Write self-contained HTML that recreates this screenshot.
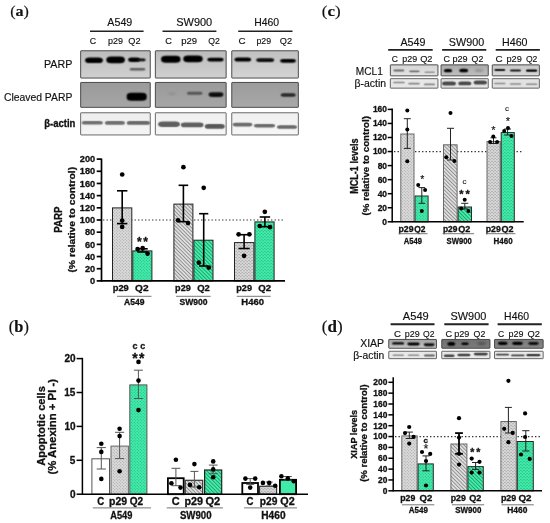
<!DOCTYPE html>
<html><head><meta charset="utf-8"><title>figure</title>
<style>
html,body{margin:0;padding:0;background:#fff;}
body{width:550px;height:523px;overflow:hidden;font-family:"Liberation Sans",sans-serif;}
svg{display:block;will-change:transform;}
svg text{stroke:#111;stroke-width:0.15px;stroke-linejoin:round;}
svg text[font-weight="bold"]{stroke-width:0.3px;}
</style></head><body>
<svg width="550" height="523" viewBox="0 0 550 523">
<rect width="550" height="523" fill="#fff"/>
<defs>
<filter id="bl1" x="-30%" y="-200%" width="160%" height="500%"><feConvolveMatrix order="3" kernelMatrix="1 2 1 2 4 2 1 2 1" divisor="16" edgeMode="none"/></filter>
<filter id="bl2" x="-30%" y="-200%" width="160%" height="500%"><feConvolveMatrix order="3" kernelMatrix="1 4 1 4 16 4 1 4 1" divisor="36" edgeMode="none"/></filter>
<filter id="bl3" x="-30%" y="-200%" width="160%" height="500%"><feGaussianBlur stdDeviation="1.2"/></filter>
<pattern id="gdot" width="3" height="3" patternUnits="userSpaceOnUse"><rect width="3" height="3" fill="#dadada"/><circle cx="0.75" cy="0.75" r="0.5" fill="#9a9a9a"/><circle cx="2.25" cy="2.25" r="0.5" fill="#9a9a9a"/></pattern>
<pattern id="vdot" width="3" height="3" patternUnits="userSpaceOnUse"><rect width="3" height="3" fill="#40ecaa"/><circle cx="0.75" cy="0.75" r="0.5" fill="#28a878"/><circle cx="2.25" cy="2.25" r="0.5" fill="#28a878"/></pattern>
<pattern id="ghat" width="2.6" height="2.6" patternUnits="userSpaceOnUse" patternTransform="rotate(-45)"><rect width="2.6" height="2.6" fill="#e0e0e0"/><rect width="0.9" height="2.6" fill="#8c8c8c"/></pattern>
<pattern id="vhat" width="2.6" height="2.6" patternUnits="userSpaceOnUse" patternTransform="rotate(-45)"><rect width="2.6" height="2.6" fill="#44eeab"/><rect width="0.9" height="2.6" fill="#1f9c6c"/></pattern>
<pattern id="gmsh" width="3.2" height="3.0" patternUnits="userSpaceOnUse"><rect width="3.2" height="3.0" fill="#dadada"/><rect x="0.2" y="0.4" width="1.3" height="0.8" fill="#8e8e8e"/><rect x="1.8" y="1.9" width="1.3" height="0.8" fill="#8e8e8e"/></pattern>
<pattern id="vmsh" width="3.2" height="3.0" patternUnits="userSpaceOnUse"><rect width="3.2" height="3.0" fill="#40eeaa"/><rect x="0.2" y="0.4" width="1.3" height="0.8" fill="#26a878"/><rect x="1.8" y="1.9" width="1.3" height="0.8" fill="#26a878"/></pattern>
</defs>
<text x="10.18" y="15.90" font-family="Liberation Serif" font-size="15.2" fill="#111" textLength="18.72" lengthAdjust="spacingAndGlyphs">(<tspan font-weight="bold">a</tspan>)</text>
<text x="8.86" y="332.00" font-family="Liberation Serif" font-size="16.5" fill="#111" textLength="20.03" lengthAdjust="spacingAndGlyphs">(<tspan font-weight="bold">b</tspan>)</text>
<text x="321.83" y="15.90" font-family="Liberation Serif" font-size="15.2" fill="#111" textLength="18.89" lengthAdjust="spacingAndGlyphs">(<tspan font-weight="bold">c</tspan>)</text>
<text x="321.83" y="332.00" font-family="Liberation Serif" font-size="16.5" fill="#111" textLength="20.78" lengthAdjust="spacingAndGlyphs">(<tspan font-weight="bold">d</tspan>)</text>
<text x="107.37" y="26.40" font-family="Liberation Sans" font-size="10.4" fill="#111" textLength="24.91" lengthAdjust="spacingAndGlyphs">A549</text>
<line x1="90.00" y1="31.20" x2="143.60" y2="31.20" stroke="#222" stroke-width="1.6"/>
<text x="89.76" y="43.60" font-family="Liberation Sans" font-size="8.8" fill="#111" textLength="6.39" lengthAdjust="spacingAndGlyphs">C</text>
<text x="108.12" y="43.60" font-family="Liberation Sans" font-size="8.8" fill="#111" textLength="15.00" lengthAdjust="spacingAndGlyphs">p29</text>
<text x="128.27" y="43.60" font-family="Liberation Sans" font-size="8.8" fill="#111" textLength="12.21" lengthAdjust="spacingAndGlyphs">Q2</text>
<text x="176.31" y="26.40" font-family="Liberation Sans" font-size="10.4" fill="#111" textLength="35.92" lengthAdjust="spacingAndGlyphs">SW900</text>
<line x1="162.50" y1="31.20" x2="216.40" y2="31.20" stroke="#222" stroke-width="1.6"/>
<text x="165.34" y="43.60" font-family="Liberation Sans" font-size="8.8" fill="#111" textLength="6.62" lengthAdjust="spacingAndGlyphs">C</text>
<text x="181.18" y="43.60" font-family="Liberation Sans" font-size="8.8" fill="#111" textLength="15.85" lengthAdjust="spacingAndGlyphs">p29</text>
<text x="208.19" y="43.60" font-family="Liberation Sans" font-size="8.8" fill="#111" textLength="11.56" lengthAdjust="spacingAndGlyphs">Q2</text>
<text x="254.14" y="26.40" font-family="Liberation Sans" font-size="10.4" fill="#111" textLength="24.85" lengthAdjust="spacingAndGlyphs">H460</text>
<line x1="238.20" y1="31.20" x2="292.50" y2="31.20" stroke="#222" stroke-width="1.6"/>
<text x="238.51" y="43.60" font-family="Liberation Sans" font-size="8.8" fill="#111" textLength="7.08" lengthAdjust="spacingAndGlyphs">C</text>
<text x="256.43" y="43.60" font-family="Liberation Sans" font-size="8.8" fill="#111" textLength="14.68" lengthAdjust="spacingAndGlyphs">p29</text>
<text x="279.77" y="43.60" font-family="Liberation Sans" font-size="8.8" fill="#111" textLength="12.21" lengthAdjust="spacingAndGlyphs">Q2</text>
<text x="44.02" y="67.70" font-family="Liberation Sans" font-size="10" fill="#111" textLength="28.33" lengthAdjust="spacingAndGlyphs">PARP</text>
<text x="3.98" y="101.00" font-family="Liberation Sans" font-size="10" fill="#111" textLength="68.35" lengthAdjust="spacingAndGlyphs">Cleaved PARP</text>
<text x="44.24" y="126.80" font-family="Liberation Sans" font-size="10" font-weight="bold" fill="#111" textLength="31.13" lengthAdjust="spacingAndGlyphs">β-actin</text>
<linearGradient id="gr1" x1="0" y1="0" x2="0" y2="1"><stop offset="0" stop-color="#bcbcbc"/><stop offset="1" stop-color="#d0d0d0"/></linearGradient>
<rect x="80.65" y="50.75" width="69.60" height="27.30" fill="url(#gr1)" stroke="#3c3c3c" stroke-width="0.9" rx="0.4"/>
<rect x="85.10" y="57.40" width="17.80" height="5.70" rx="4.56" ry="2.85" fill="#000" opacity="1.0" filter="url(#bl1)"/>
<rect x="106.35" y="56.55" width="18.50" height="6.80" rx="4.80" ry="3.00" fill="#000" opacity="1.0" filter="url(#bl1)"/>
<rect x="128.15" y="57.50" width="11.70" height="4.40" rx="3.52" ry="2.20" fill="#000" opacity="1.0" filter="url(#bl1)"/>
<rect x="136.40" y="58.50" width="9.20" height="2.80" rx="2.24" ry="1.40" fill="#0a0a0a" opacity="1.0" filter="url(#bl1)"/>
<rect x="129.75" y="68.10" width="15.50" height="2.40" rx="1.92" ry="1.20" fill="#5a5a5a" opacity="1.0" filter="url(#bl1)"/>
<linearGradient id="gr2" x1="0" y1="0" x2="0" y2="1"><stop offset="0" stop-color="#bcbcbc"/><stop offset="1" stop-color="#d0d0d0"/></linearGradient>
<rect x="155.35" y="50.75" width="70.80" height="27.30" fill="url(#gr2)" stroke="#3c3c3c" stroke-width="0.9" rx="0.4"/>
<rect x="161.10" y="55.80" width="19.40" height="7.00" rx="4.80" ry="3.00" fill="#000" opacity="1.0" filter="url(#bl1)"/>
<rect x="183.30" y="55.45" width="19.40" height="6.70" rx="4.80" ry="3.00" fill="#000" opacity="1.0" filter="url(#bl1)"/>
<rect x="207.35" y="57.75" width="16.30" height="3.70" rx="2.96" ry="1.85" fill="#000" opacity="1.0" filter="url(#bl1)"/>
<linearGradient id="gr3" x1="0" y1="0" x2="0" y2="1"><stop offset="0" stop-color="#c0c0c0"/><stop offset="1" stop-color="#d4d4d4"/></linearGradient>
<rect x="231.75" y="50.75" width="66.60" height="27.30" fill="url(#gr3)" stroke="#3c3c3c" stroke-width="0.9" rx="0.4"/>
<rect x="234.50" y="57.60" width="16.60" height="4.00" rx="3.20" ry="2.00" fill="#000" opacity="1.0" filter="url(#bl1)"/>
<rect x="256.20" y="58.30" width="18.00" height="3.60" rx="2.88" ry="1.80" fill="#080808" opacity="1.0" filter="url(#bl1)"/>
<rect x="280.10" y="58.90" width="15.80" height="3.80" rx="3.04" ry="1.90" fill="#000" opacity="1.0" filter="url(#bl1)"/>
<linearGradient id="gr4" x1="0" y1="0" x2="0" y2="1"><stop offset="0" stop-color="#9a9a9a"/><stop offset="1" stop-color="#a6a6a6"/></linearGradient>
<rect x="80.65" y="82.45" width="69.60" height="24.90" fill="url(#gr4)" stroke="#3c3c3c" stroke-width="0.9" rx="0.4"/>
<rect x="126.70" y="92.70" width="20.00" height="8.00" rx="4.80" ry="3.00" fill="#000" opacity="1.0" filter="url(#bl1)"/>
<linearGradient id="gr5" x1="0" y1="0" x2="0" y2="1"><stop offset="0" stop-color="#9a9a9a"/><stop offset="1" stop-color="#a6a6a6"/></linearGradient>
<rect x="155.35" y="82.45" width="70.80" height="24.90" fill="url(#gr5)" stroke="#3c3c3c" stroke-width="0.9" rx="0.4"/>
<rect x="168.40" y="92.70" width="7.20" height="1.80" rx="1.44" ry="0.90" fill="#888" opacity="1.0" filter="url(#bl3)"/>
<rect x="186.85" y="91.80" width="15.70" height="3.00" rx="2.40" ry="1.50" fill="#555" opacity="1.0" filter="url(#bl1)"/>
<rect x="208.65" y="92.30" width="14.70" height="4.60" rx="3.68" ry="2.30" fill="#0a0a0a" opacity="1.0" filter="url(#bl1)"/>
<linearGradient id="gr6" x1="0" y1="0" x2="0" y2="1"><stop offset="0" stop-color="#9c9c9c"/><stop offset="1" stop-color="#a8a8a8"/></linearGradient>
<rect x="231.75" y="82.45" width="66.60" height="24.90" fill="url(#gr6)" stroke="#3c3c3c" stroke-width="0.9" rx="0.4"/>
<rect x="280.60" y="93.30" width="15.20" height="3.40" rx="2.72" ry="1.70" fill="#262626" opacity="1.0" filter="url(#bl1)"/>
<linearGradient id="gr7" x1="0" y1="0" x2="0" y2="1"><stop offset="0" stop-color="#eeeeee"/><stop offset="1" stop-color="#f5f5f5"/></linearGradient>
<rect x="80.65" y="112.75" width="69.60" height="22.20" fill="url(#gr7)" stroke="#5a5a5a" stroke-width="0.9" rx="0.4"/>
<rect x="81.70" y="121.00" width="21.20" height="3.60" rx="2.88" ry="1.80" fill="#6e6e6e" opacity="1.0" filter="url(#bl2)"/>
<rect x="104.90" y="121.10" width="20.00" height="3.60" rx="2.88" ry="1.80" fill="#6e6e6e" opacity="1.0" filter="url(#bl2)"/>
<rect x="126.80" y="121.05" width="23.20" height="3.70" rx="2.96" ry="1.85" fill="#686868" opacity="1.0" filter="url(#bl2)"/>
<linearGradient id="gr8" x1="0" y1="0" x2="0" y2="1"><stop offset="0" stop-color="#f0f0f0"/><stop offset="1" stop-color="#f6f6f6"/></linearGradient>
<rect x="155.35" y="112.75" width="70.80" height="22.20" fill="url(#gr8)" stroke="#5a5a5a" stroke-width="0.9" rx="0.4"/>
<rect x="158.15" y="121.50" width="21.70" height="5.40" rx="4.32" ry="2.70" fill="#5e5e5e" opacity="1.0" filter="url(#bl2)"/>
<rect x="180.90" y="122.50" width="22.60" height="4.80" rx="3.84" ry="2.40" fill="#5e5e5e" opacity="1.0" filter="url(#bl2)"/>
<rect x="204.85" y="124.00" width="19.90" height="4.80" rx="3.84" ry="2.40" fill="#585858" opacity="1.0" filter="url(#bl2)"/>
<linearGradient id="gr9" x1="0" y1="0" x2="0" y2="1"><stop offset="0" stop-color="#f0f0f0"/><stop offset="1" stop-color="#f6f6f6"/></linearGradient>
<rect x="231.75" y="112.75" width="66.60" height="22.20" fill="url(#gr9)" stroke="#5a5a5a" stroke-width="0.9" rx="0.4"/>
<rect x="232.65" y="122.80" width="19.70" height="3.60" rx="2.88" ry="1.80" fill="#6a6a6a" opacity="1.0" filter="url(#bl2)"/>
<rect x="253.85" y="124.10" width="21.30" height="3.40" rx="2.72" ry="1.70" fill="#6a6a6a" opacity="1.0" filter="url(#bl2)"/>
<rect x="277.00" y="125.20" width="20.00" height="3.60" rx="2.88" ry="1.80" fill="#666" opacity="1.0" filter="url(#bl2)"/>
<text x="400.47" y="45.50" font-family="Liberation Sans" font-size="10.4" fill="#111" textLength="25.01" lengthAdjust="spacingAndGlyphs">A549</text>
<line x1="388.20" y1="49.90" x2="432.70" y2="49.90" stroke="#222" stroke-width="1.9"/>
<text x="391.87" y="62.40" font-family="Liberation Sans" font-size="9.0" fill="#111" textLength="6.17" lengthAdjust="spacingAndGlyphs">C</text>
<text x="402.32" y="62.40" font-family="Liberation Sans" font-size="9.0" fill="#111" textLength="14.89" lengthAdjust="spacingAndGlyphs">p29</text>
<text x="420.16" y="62.40" font-family="Liberation Sans" font-size="9.0" fill="#111" textLength="12.31" lengthAdjust="spacingAndGlyphs">Q2</text>
<text x="448.82" y="45.50" font-family="Liberation Sans" font-size="10.4" fill="#111" textLength="35.31" lengthAdjust="spacingAndGlyphs">SW900</text>
<line x1="442.10" y1="49.90" x2="486.30" y2="49.90" stroke="#222" stroke-width="1.9"/>
<text x="443.55" y="62.40" font-family="Liberation Sans" font-size="9.0" fill="#111" textLength="6.51" lengthAdjust="spacingAndGlyphs">C</text>
<text x="452.41" y="62.40" font-family="Liberation Sans" font-size="9.0" fill="#111" textLength="15.11" lengthAdjust="spacingAndGlyphs">p29</text>
<text x="471.58" y="62.40" font-family="Liberation Sans" font-size="9.0" fill="#111" textLength="11.67" lengthAdjust="spacingAndGlyphs">Q2</text>
<text x="502.02" y="45.50" font-family="Liberation Sans" font-size="10.4" fill="#111" textLength="25.49" lengthAdjust="spacingAndGlyphs">H460</text>
<line x1="495.70" y1="49.90" x2="539.90" y2="49.90" stroke="#222" stroke-width="1.9"/>
<text x="495.51" y="62.40" font-family="Liberation Sans" font-size="9.0" fill="#111" textLength="7.08" lengthAdjust="spacingAndGlyphs">C</text>
<text x="506.50" y="62.40" font-family="Liberation Sans" font-size="9.0" fill="#111" textLength="15.32" lengthAdjust="spacingAndGlyphs">p29</text>
<text x="525.89" y="62.40" font-family="Liberation Sans" font-size="9.0" fill="#111" textLength="11.45" lengthAdjust="spacingAndGlyphs">Q2</text>
<text x="355.86" y="74.70" font-family="Liberation Sans" font-size="10" fill="#111" textLength="27.02" lengthAdjust="spacingAndGlyphs">MCL1</text>
<text x="354.47" y="86.80" font-family="Liberation Sans" font-size="10" fill="#111" textLength="31.62" lengthAdjust="spacingAndGlyphs">β-actin</text>
<linearGradient id="gr10" x1="0" y1="0" x2="0" y2="1"><stop offset="0" stop-color="#d6d6d6"/><stop offset="1" stop-color="#e4e4e4"/></linearGradient>
<rect x="390.35" y="64.85" width="47.60" height="11.00" fill="url(#gr10)" stroke="#3c3c3c" stroke-width="0.9" rx="0.4"/>
<rect x="393.40" y="69.60" width="11.00" height="2.00" rx="1.60" ry="1.00" fill="#6a6a6a" opacity="1.0" filter="url(#bl2)"/>
<rect x="409.15" y="70.40" width="10.50" height="1.80" rx="1.44" ry="0.90" fill="#6a6a6a" opacity="1.0" filter="url(#bl2)"/>
<rect x="424.45" y="71.50" width="10.50" height="1.60" rx="1.28" ry="0.80" fill="#909090" opacity="1.0" filter="url(#bl2)"/>
<linearGradient id="gr11" x1="0" y1="0" x2="0" y2="1"><stop offset="0" stop-color="#aaaaaa"/><stop offset="1" stop-color="#c0c0c0"/></linearGradient>
<rect x="441.05" y="64.85" width="47.20" height="11.00" fill="url(#gr11)" stroke="#3c3c3c" stroke-width="0.9" rx="0.4"/>
<rect x="443.80" y="69.10" width="8.40" height="3.20" rx="2.56" ry="1.60" fill="#000" opacity="1.0" filter="url(#bl1)"/>
<rect x="459.25" y="68.70" width="8.90" height="3.60" rx="2.88" ry="1.80" fill="#000" opacity="1.0" filter="url(#bl1)"/>
<rect x="474.80" y="69.50" width="8.40" height="2.20" rx="1.76" ry="1.10" fill="#8a8a8a" opacity="1.0" filter="url(#bl3)"/>
<linearGradient id="gr12" x1="0" y1="0" x2="0" y2="1"><stop offset="0" stop-color="#c8c8c8"/><stop offset="1" stop-color="#d8d8d8"/></linearGradient>
<rect x="492.25" y="64.85" width="47.10" height="11.00" fill="url(#gr12)" stroke="#3c3c3c" stroke-width="0.9" rx="0.4"/>
<rect x="494.30" y="69.10" width="11.00" height="2.00" rx="1.60" ry="1.00" fill="#141414" opacity="1.0" filter="url(#bl2)"/>
<rect x="510.00" y="69.40" width="11.00" height="2.00" rx="1.60" ry="1.00" fill="#141414" opacity="1.0" filter="url(#bl2)"/>
<rect x="525.90" y="69.40" width="11.40" height="2.40" rx="1.92" ry="1.20" fill="#000" opacity="1.0" filter="url(#bl2)"/>
<rect x="390.35" y="78.65" width="47.60" height="9.50" fill="#e8e8e8" stroke="#555" stroke-width="0.9" rx="0.4"/>
<rect x="393.15" y="81.65" width="11.70" height="1.70" rx="1.36" ry="0.85" fill="#858585" opacity="1.0" filter="url(#bl2)"/>
<rect x="408.15" y="82.75" width="11.70" height="1.70" rx="1.36" ry="0.85" fill="#858585" opacity="1.0" filter="url(#bl2)"/>
<rect x="423.90" y="83.50" width="11.20" height="1.80" rx="1.44" ry="0.90" fill="#858585" opacity="1.0" filter="url(#bl2)"/>
<rect x="441.05" y="78.65" width="47.20" height="9.50" fill="#e6e6e6" stroke="#555" stroke-width="0.9" rx="0.4"/>
<rect x="442.10" y="81.40" width="13.80" height="4.00" rx="3.20" ry="2.00" fill="#4a4a4a" opacity="1.0" filter="url(#bl2)"/>
<rect x="458.30" y="81.55" width="13.00" height="3.70" rx="2.96" ry="1.85" fill="#4a4a4a" opacity="1.0" filter="url(#bl2)"/>
<rect x="473.70" y="80.50" width="13.20" height="4.00" rx="3.20" ry="2.00" fill="#4a4a4a" opacity="1.0" filter="url(#bl2)"/>
<rect x="492.25" y="78.65" width="47.10" height="9.50" fill="#e2e2e2" stroke="#555" stroke-width="0.9" rx="0.4"/>
<rect x="493.95" y="82.85" width="11.70" height="1.50" rx="1.20" ry="0.75" fill="#8a8a8a" opacity="1.0" filter="url(#bl2)"/>
<rect x="509.65" y="83.25" width="11.70" height="1.50" rx="1.20" ry="0.75" fill="#8a8a8a" opacity="1.0" filter="url(#bl2)"/>
<rect x="525.75" y="83.45" width="11.70" height="1.50" rx="1.20" ry="0.75" fill="#8a8a8a" opacity="1.0" filter="url(#bl2)"/>
<text x="402.87" y="319.60" font-family="Liberation Sans" font-size="10.4" fill="#111" textLength="25.93" lengthAdjust="spacingAndGlyphs">A549</text>
<line x1="390.60" y1="324.30" x2="434.50" y2="324.30" stroke="#222" stroke-width="1.9"/>
<text x="393.92" y="336.80" font-family="Liberation Sans" font-size="9.0" fill="#111" textLength="6.96" lengthAdjust="spacingAndGlyphs">C</text>
<text x="404.82" y="336.80" font-family="Liberation Sans" font-size="9.0" fill="#111" textLength="14.89" lengthAdjust="spacingAndGlyphs">p29</text>
<text x="422.99" y="336.80" font-family="Liberation Sans" font-size="9.0" fill="#111" textLength="11.45" lengthAdjust="spacingAndGlyphs">Q2</text>
<text x="450.51" y="319.60" font-family="Liberation Sans" font-size="10.4" fill="#111" textLength="35.82" lengthAdjust="spacingAndGlyphs">SW900</text>
<line x1="444.30" y1="324.30" x2="488.60" y2="324.30" stroke="#222" stroke-width="1.9"/>
<text x="445.54" y="336.80" font-family="Liberation Sans" font-size="9.0" fill="#111" textLength="6.62" lengthAdjust="spacingAndGlyphs">C</text>
<text x="454.21" y="336.80" font-family="Liberation Sans" font-size="9.0" fill="#111" textLength="15.11" lengthAdjust="spacingAndGlyphs">p29</text>
<text x="473.58" y="336.80" font-family="Liberation Sans" font-size="9.0" fill="#111" textLength="11.67" lengthAdjust="spacingAndGlyphs">Q2</text>
<text x="504.14" y="319.60" font-family="Liberation Sans" font-size="10.4" fill="#111" textLength="24.96" lengthAdjust="spacingAndGlyphs">H460</text>
<line x1="497.60" y1="324.30" x2="541.80" y2="324.30" stroke="#222" stroke-width="1.9"/>
<text x="498.07" y="336.80" font-family="Liberation Sans" font-size="9.0" fill="#111" textLength="6.17" lengthAdjust="spacingAndGlyphs">C</text>
<text x="508.52" y="336.80" font-family="Liberation Sans" font-size="9.0" fill="#111" textLength="14.89" lengthAdjust="spacingAndGlyphs">p29</text>
<text x="527.46" y="336.80" font-family="Liberation Sans" font-size="9.0" fill="#111" textLength="12.42" lengthAdjust="spacingAndGlyphs">Q2</text>
<text x="360.16" y="347.30" font-family="Liberation Sans" font-size="10" fill="#111" textLength="23.98" lengthAdjust="spacingAndGlyphs">XIAP</text>
<text x="353.18" y="358.60" font-family="Liberation Sans" font-size="10" fill="#111" textLength="31.10" lengthAdjust="spacingAndGlyphs">β-actin</text>
<linearGradient id="gr13" x1="0" y1="0" x2="0" y2="1"><stop offset="0" stop-color="#a2a2a2"/><stop offset="1" stop-color="#c8c8c8"/></linearGradient>
<rect x="388.75" y="339.45" width="47.70" height="8.80" fill="url(#gr13)" stroke="#3c3c3c" stroke-width="0.9" rx="0.4"/>
<rect x="392.10" y="342.20" width="12.00" height="2.40" rx="1.92" ry="1.20" fill="#000" opacity="1.0" filter="url(#bl1)"/>
<rect x="407.30" y="342.60" width="12.40" height="2.80" rx="2.24" ry="1.40" fill="#000" opacity="1.0" filter="url(#bl1)"/>
<rect x="423.80" y="343.35" width="10.80" height="2.90" rx="2.32" ry="1.45" fill="#0a0a0a" opacity="1.0" filter="url(#bl1)"/>
<linearGradient id="gr14" x1="0" y1="0" x2="0" y2="1"><stop offset="0" stop-color="#707070"/><stop offset="1" stop-color="#7c7c7c"/></linearGradient>
<rect x="441.75" y="339.45" width="48.20" height="8.80" fill="url(#gr14)" stroke="#3c3c3c" stroke-width="0.9" rx="0.4"/>
<rect x="447.40" y="342.10" width="7.80" height="3.60" rx="2.88" ry="1.80" fill="#000" opacity="1.0" filter="url(#bl1)"/>
<rect x="461.30" y="342.40" width="7.40" height="2.60" rx="2.08" ry="1.30" fill="#000" opacity="1.0" filter="url(#bl1)"/>
<rect x="477.50" y="342.50" width="8.20" height="2.20" rx="1.76" ry="1.10" fill="#484848" opacity="1.0" filter="url(#bl3)"/>
<linearGradient id="gr15" x1="0" y1="0" x2="0" y2="1"><stop offset="0" stop-color="#7a7a7a"/><stop offset="1" stop-color="#888888"/></linearGradient>
<rect x="494.55" y="339.45" width="48.60" height="8.80" fill="url(#gr15)" stroke="#3c3c3c" stroke-width="0.9" rx="0.4"/>
<rect x="497.80" y="341.70" width="9.80" height="3.20" rx="2.56" ry="1.60" fill="#000" opacity="1.0" filter="url(#bl1)"/>
<rect x="512.10" y="341.70" width="10.80" height="3.20" rx="2.56" ry="1.60" fill="#000" opacity="1.0" filter="url(#bl1)"/>
<rect x="528.40" y="342.10" width="10.20" height="2.80" rx="2.24" ry="1.40" fill="#111" opacity="1.0" filter="url(#bl1)"/>
<rect x="388.75" y="351.25" width="47.70" height="7.40" fill="#e8e8e8" stroke="#555" stroke-width="0.9" rx="0.4"/>
<rect x="392.45" y="354.40" width="11.70" height="1.60" rx="1.28" ry="0.80" fill="#8a8a8a" opacity="1.0" filter="url(#bl2)"/>
<rect x="407.75" y="354.50" width="11.70" height="1.60" rx="1.28" ry="0.80" fill="#8a8a8a" opacity="1.0" filter="url(#bl2)"/>
<rect x="423.90" y="354.50" width="11.00" height="2.00" rx="1.60" ry="1.00" fill="#5e5e5e" opacity="1.0" filter="url(#bl2)"/>
<rect x="441.75" y="351.25" width="48.20" height="7.40" fill="#ebebeb" stroke="#555" stroke-width="0.9" rx="0.4"/>
<rect x="443.80" y="354.60" width="10.80" height="2.40" rx="1.92" ry="1.20" fill="#404040" opacity="1.0" filter="url(#bl2)"/>
<rect x="457.35" y="353.70" width="13.10" height="2.60" rx="2.08" ry="1.30" fill="#404040" opacity="1.0" filter="url(#bl2)"/>
<rect x="473.75" y="352.70" width="14.10" height="2.80" rx="2.24" ry="1.40" fill="#404040" opacity="1.0" filter="url(#bl2)"/>
<rect x="494.55" y="351.25" width="48.60" height="7.40" fill="#ebebeb" stroke="#555" stroke-width="0.9" rx="0.4"/>
<rect x="495.80" y="353.70" width="13.40" height="1.80" rx="1.44" ry="0.90" fill="#404040" opacity="1.0" filter="url(#bl2)"/>
<rect x="511.00" y="354.50" width="13.60" height="1.80" rx="1.44" ry="0.90" fill="#404040" opacity="1.0" filter="url(#bl2)"/>
<rect x="526.25" y="354.10" width="14.10" height="2.20" rx="1.76" ry="1.10" fill="#303030" opacity="1.0" filter="url(#bl2)"/>
<line x1="103.00" y1="220.00" x2="283.00" y2="220.00" stroke="#333" stroke-width="1.2" stroke-dasharray="1.4 2.1"/>
<rect x="112.50" y="207.90" width="19.30" height="73.00" fill="url(#gdot)" stroke="#222" stroke-width="1.0"/>
<rect x="132.80" y="250.90" width="19.10" height="30.00" fill="url(#vdot)" stroke="#222" stroke-width="1.0"/>
<rect x="173.90" y="204.10" width="19.00" height="76.80" fill="url(#ghat)" stroke="#222" stroke-width="1.0"/>
<rect x="193.90" y="240.20" width="19.10" height="40.70" fill="url(#vhat)" stroke="#222" stroke-width="1.0"/>
<rect x="234.50" y="242.60" width="19.40" height="38.30" fill="url(#gmsh)" stroke="#222" stroke-width="1.0"/>
<rect x="254.90" y="221.90" width="19.20" height="59.00" fill="url(#vmsh)" stroke="#222" stroke-width="1.0"/>
<line x1="122.20" y1="190.80" x2="122.20" y2="223.60" stroke="#000" stroke-width="1.6"/>
<line x1="117.00" y1="190.80" x2="127.40" y2="190.80" stroke="#000" stroke-width="1.6"/>
<line x1="117.00" y1="223.60" x2="127.40" y2="223.60" stroke="#000" stroke-width="1.6"/>
<line x1="142.50" y1="248.80" x2="142.50" y2="252.00" stroke="#000" stroke-width="1.6"/>
<line x1="137.30" y1="248.80" x2="147.70" y2="248.80" stroke="#000" stroke-width="1.6"/>
<line x1="137.30" y1="252.00" x2="147.70" y2="252.00" stroke="#000" stroke-width="1.6"/>
<line x1="183.40" y1="185.30" x2="183.40" y2="221.70" stroke="#000" stroke-width="1.6"/>
<line x1="178.60" y1="185.30" x2="188.20" y2="185.30" stroke="#000" stroke-width="1.6"/>
<line x1="178.60" y1="221.70" x2="188.20" y2="221.70" stroke="#000" stroke-width="1.6"/>
<line x1="203.70" y1="213.70" x2="203.70" y2="266.00" stroke="#000" stroke-width="1.6"/>
<line x1="199.10" y1="213.70" x2="208.30" y2="213.70" stroke="#000" stroke-width="1.6"/>
<line x1="199.10" y1="266.00" x2="208.30" y2="266.00" stroke="#000" stroke-width="1.6"/>
<line x1="244.10" y1="234.70" x2="244.10" y2="248.50" stroke="#000" stroke-width="1.6"/>
<line x1="238.50" y1="234.70" x2="249.70" y2="234.70" stroke="#000" stroke-width="1.6"/>
<line x1="238.50" y1="248.50" x2="249.70" y2="248.50" stroke="#000" stroke-width="1.6"/>
<line x1="264.90" y1="217.00" x2="264.90" y2="226.70" stroke="#000" stroke-width="1.6"/>
<line x1="259.70" y1="217.00" x2="270.10" y2="217.00" stroke="#000" stroke-width="1.6"/>
<line x1="259.70" y1="226.70" x2="270.10" y2="226.70" stroke="#000" stroke-width="1.6"/>
<circle cx="122.20" cy="174.50" r="2.35" fill="#000"/>
<circle cx="122.20" cy="220.50" r="2.35" fill="#000"/>
<circle cx="122.20" cy="226.90" r="2.35" fill="#000"/>
<circle cx="137.60" cy="249.10" r="2.35" fill="#000"/>
<circle cx="142.70" cy="248.20" r="2.35" fill="#000"/>
<circle cx="147.60" cy="253.60" r="2.35" fill="#000"/>
<circle cx="183.40" cy="167.20" r="2.35" fill="#000"/>
<circle cx="178.00" cy="220.30" r="2.35" fill="#000"/>
<circle cx="188.00" cy="223.10" r="2.35" fill="#000"/>
<circle cx="203.70" cy="187.80" r="2.35" fill="#000"/>
<circle cx="198.80" cy="262.70" r="2.35" fill="#000"/>
<circle cx="208.80" cy="267.60" r="2.35" fill="#000"/>
<circle cx="238.60" cy="234.30" r="2.35" fill="#000"/>
<circle cx="249.40" cy="234.30" r="2.35" fill="#000"/>
<circle cx="244.10" cy="255.80" r="2.35" fill="#000"/>
<circle cx="264.80" cy="211.80" r="2.35" fill="#000"/>
<circle cx="259.70" cy="226.00" r="2.35" fill="#000"/>
<circle cx="270.00" cy="227.20" r="2.35" fill="#000"/>
<line x1="101.50" y1="158.60" x2="101.50" y2="281.75" stroke="#000" stroke-width="1.7"/>
<line x1="101.50" y1="280.90" x2="285.00" y2="280.90" stroke="#000" stroke-width="1.7"/>
<line x1="96.70" y1="280.90" x2="101.50" y2="280.90" stroke="#000" stroke-width="1.7"/>
<text x="95.18" y="284.11" font-family="Liberation Sans" font-size="9.2" font-weight="bold" text-anchor="end" fill="#111">0</text>
<line x1="96.70" y1="268.72" x2="101.50" y2="268.72" stroke="#000" stroke-width="1.7"/>
<text x="95.19" y="271.93" font-family="Liberation Sans" font-size="9.2" font-weight="bold" text-anchor="end" fill="#111">20</text>
<line x1="96.70" y1="256.54" x2="101.50" y2="256.54" stroke="#000" stroke-width="1.7"/>
<text x="95.19" y="259.75" font-family="Liberation Sans" font-size="9.2" font-weight="bold" text-anchor="end" fill="#111">40</text>
<line x1="96.70" y1="244.36" x2="101.50" y2="244.36" stroke="#000" stroke-width="1.7"/>
<text x="95.19" y="247.57" font-family="Liberation Sans" font-size="9.2" font-weight="bold" text-anchor="end" fill="#111">60</text>
<line x1="96.70" y1="232.18" x2="101.50" y2="232.18" stroke="#000" stroke-width="1.7"/>
<text x="95.19" y="235.39" font-family="Liberation Sans" font-size="9.2" font-weight="bold" text-anchor="end" fill="#111">80</text>
<line x1="96.70" y1="220.00" x2="101.50" y2="220.00" stroke="#000" stroke-width="1.7"/>
<text x="95.18" y="223.21" font-family="Liberation Sans" font-size="9.2" font-weight="bold" text-anchor="end" fill="#111">100</text>
<line x1="96.70" y1="207.82" x2="101.50" y2="207.82" stroke="#000" stroke-width="1.7"/>
<text x="95.18" y="211.03" font-family="Liberation Sans" font-size="9.2" font-weight="bold" text-anchor="end" fill="#111">120</text>
<line x1="96.70" y1="195.64" x2="101.50" y2="195.64" stroke="#000" stroke-width="1.7"/>
<text x="95.18" y="198.85" font-family="Liberation Sans" font-size="9.2" font-weight="bold" text-anchor="end" fill="#111">140</text>
<line x1="96.70" y1="183.46" x2="101.50" y2="183.46" stroke="#000" stroke-width="1.7"/>
<text x="95.18" y="186.67" font-family="Liberation Sans" font-size="9.2" font-weight="bold" text-anchor="end" fill="#111">160</text>
<line x1="96.70" y1="171.28" x2="101.50" y2="171.28" stroke="#000" stroke-width="1.7"/>
<text x="95.18" y="174.49" font-family="Liberation Sans" font-size="9.2" font-weight="bold" text-anchor="end" fill="#111">180</text>
<line x1="96.70" y1="159.10" x2="101.50" y2="159.10" stroke="#000" stroke-width="1.7"/>
<text x="95.18" y="162.31" font-family="Liberation Sans" font-size="9.2" font-weight="bold" text-anchor="end" fill="#111">200</text>
<text x="136.96" y="245.51" font-family="Liberation Sans" font-size="12" font-weight="bold" fill="#111">*</text>
<text x="143.36" y="245.51" font-family="Liberation Sans" font-size="12" font-weight="bold" fill="#111">*</text>
<text x="112.69" y="291.40" font-family="Liberation Sans" font-size="9.5" font-weight="bold" fill="#111" textLength="16.14" lengthAdjust="spacingAndGlyphs">p29</text>
<text x="135.09" y="291.40" font-family="Liberation Sans" font-size="9.5" font-weight="bold" fill="#111" textLength="13.53" lengthAdjust="spacingAndGlyphs">Q2</text>
<text x="175.11" y="291.40" font-family="Liberation Sans" font-size="9.5" font-weight="bold" fill="#111" textLength="15.72" lengthAdjust="spacingAndGlyphs">p29</text>
<text x="197.22" y="291.40" font-family="Liberation Sans" font-size="9.5" font-weight="bold" fill="#111" textLength="12.67" lengthAdjust="spacingAndGlyphs">Q2</text>
<text x="236.20" y="291.40" font-family="Liberation Sans" font-size="9.5" font-weight="bold" fill="#111" textLength="15.82" lengthAdjust="spacingAndGlyphs">p29</text>
<text x="258.21" y="291.40" font-family="Liberation Sans" font-size="9.5" font-weight="bold" fill="#111" textLength="12.89" lengthAdjust="spacingAndGlyphs">Q2</text>
<text x="124.09" y="304.60" font-family="Liberation Sans" font-size="8.6" font-weight="bold" fill="#111" textLength="20.42" lengthAdjust="spacingAndGlyphs">A549</text>
<text x="179.44" y="304.60" font-family="Liberation Sans" font-size="8.6" font-weight="bold" fill="#111" textLength="28.01" lengthAdjust="spacingAndGlyphs">SW900</text>
<text x="241.36" y="304.60" font-family="Liberation Sans" font-size="8.6" font-weight="bold" fill="#111" textLength="22.62" lengthAdjust="spacingAndGlyphs">H460</text>
<line x1="117.00" y1="296.30" x2="151.50" y2="296.30" stroke="#777" stroke-width="1.0"/>
<line x1="176.10" y1="296.30" x2="210.60" y2="296.30" stroke="#777" stroke-width="1.0"/>
<line x1="236.80" y1="296.30" x2="270.70" y2="296.30" stroke="#777" stroke-width="1.0"/>
<text transform="translate(62.20 232.20) rotate(-90)" x="-0.66" y="0" font-family="Liberation Sans" font-size="10" font-weight="bold" fill="#111" textLength="26.29" lengthAdjust="spacingAndGlyphs">PARP</text>
<text transform="translate(74.70 272.10) rotate(-90)" x="-0.52" y="0" font-family="Liberation Sans" font-size="9.6" font-weight="bold" fill="#111" textLength="105.75" lengthAdjust="spacingAndGlyphs">(% relative to control)</text>
<rect x="91.90" y="458.80" width="17.60" height="35.40" fill="#fff" stroke="#555" stroke-width="1.0"/>
<rect x="111.00" y="446.10" width="17.40" height="48.10" fill="url(#gdot)" stroke="#666" stroke-width="1.0"/>
<rect x="129.80" y="384.90" width="17.10" height="109.30" fill="url(#vdot)" stroke="#555" stroke-width="1.0"/>
<rect x="167.90" y="478.20" width="15.80" height="16.00" fill="#fff" stroke="#000" stroke-width="1.8"/>
<rect x="185.20" y="480.30" width="17.50" height="13.90" fill="url(#ghat)" stroke="#333" stroke-width="1.2"/>
<rect x="204.60" y="470.00" width="17.10" height="24.20" fill="url(#vhat)" stroke="#222" stroke-width="1.2"/>
<rect x="242.30" y="483.00" width="15.70" height="11.20" fill="#fff" stroke="#000" stroke-width="1.8"/>
<rect x="259.50" y="486.30" width="17.10" height="7.90" fill="url(#gmsh)" stroke="#333" stroke-width="1.2"/>
<rect x="279.90" y="479.80" width="16.20" height="14.40" fill="#40eaa8" stroke="#000" stroke-width="1.8"/>
<line x1="101.30" y1="447.60" x2="101.30" y2="469.00" stroke="#555" stroke-width="1.0"/>
<line x1="96.70" y1="447.60" x2="105.90" y2="447.60" stroke="#555" stroke-width="1.0"/>
<line x1="96.70" y1="469.00" x2="105.90" y2="469.00" stroke="#555" stroke-width="1.0"/>
<line x1="119.60" y1="432.30" x2="119.60" y2="458.60" stroke="#555" stroke-width="1.0"/>
<line x1="115.00" y1="432.30" x2="124.20" y2="432.30" stroke="#555" stroke-width="1.0"/>
<line x1="115.00" y1="458.60" x2="124.20" y2="458.60" stroke="#555" stroke-width="1.0"/>
<line x1="138.40" y1="370.20" x2="138.40" y2="398.50" stroke="#555" stroke-width="1.0"/>
<line x1="133.90" y1="370.20" x2="142.90" y2="370.20" stroke="#555" stroke-width="1.0"/>
<line x1="133.90" y1="398.50" x2="142.90" y2="398.50" stroke="#555" stroke-width="1.0"/>
<line x1="175.90" y1="468.30" x2="175.90" y2="485.70" stroke="#555" stroke-width="1.0"/>
<line x1="171.50" y1="468.30" x2="180.30" y2="468.30" stroke="#555" stroke-width="1.0"/>
<line x1="171.50" y1="485.70" x2="180.30" y2="485.70" stroke="#555" stroke-width="1.0"/>
<line x1="194.40" y1="471.40" x2="194.40" y2="487.00" stroke="#555" stroke-width="1.0"/>
<line x1="190.40" y1="471.40" x2="198.40" y2="471.40" stroke="#555" stroke-width="1.0"/>
<line x1="190.40" y1="487.00" x2="198.40" y2="487.00" stroke="#555" stroke-width="1.0"/>
<line x1="213.20" y1="465.10" x2="213.20" y2="473.70" stroke="#555" stroke-width="1.0"/>
<line x1="208.80" y1="465.10" x2="217.60" y2="465.10" stroke="#555" stroke-width="1.0"/>
<line x1="208.80" y1="473.70" x2="217.60" y2="473.70" stroke="#555" stroke-width="1.0"/>
<line x1="250.20" y1="478.60" x2="250.20" y2="484.40" stroke="#555" stroke-width="1.0"/>
<line x1="246.20" y1="478.60" x2="254.20" y2="478.60" stroke="#555" stroke-width="1.0"/>
<line x1="246.20" y1="484.40" x2="254.20" y2="484.40" stroke="#555" stroke-width="1.0"/>
<line x1="269.20" y1="482.00" x2="269.20" y2="486.00" stroke="#555" stroke-width="1.0"/>
<line x1="265.70" y1="482.00" x2="272.70" y2="482.00" stroke="#555" stroke-width="1.0"/>
<line x1="265.70" y1="486.00" x2="272.70" y2="486.00" stroke="#555" stroke-width="1.0"/>
<line x1="287.80" y1="476.50" x2="287.80" y2="480.00" stroke="#555" stroke-width="1.0"/>
<line x1="283.80" y1="476.50" x2="291.80" y2="476.50" stroke="#555" stroke-width="1.0"/>
<line x1="283.80" y1="480.00" x2="291.80" y2="480.00" stroke="#555" stroke-width="1.0"/>
<circle cx="101.30" cy="443.80" r="2.3" fill="#000"/>
<circle cx="101.30" cy="451.90" r="2.3" fill="#000"/>
<circle cx="101.30" cy="478.90" r="2.3" fill="#000"/>
<circle cx="119.60" cy="428.80" r="2.3" fill="#000"/>
<circle cx="119.60" cy="436.10" r="2.3" fill="#000"/>
<circle cx="119.60" cy="471.30" r="2.3" fill="#000"/>
<circle cx="138.50" cy="361.90" r="2.3" fill="#000"/>
<circle cx="138.50" cy="380.60" r="2.3" fill="#000"/>
<circle cx="138.50" cy="410.10" r="2.3" fill="#000"/>
<circle cx="175.90" cy="459.80" r="2.3" fill="#000"/>
<circle cx="171.40" cy="483.20" r="2.3" fill="#000"/>
<circle cx="180.50" cy="487.60" r="2.3" fill="#000"/>
<circle cx="194.40" cy="464.10" r="2.3" fill="#000"/>
<circle cx="190.00" cy="484.90" r="2.3" fill="#000"/>
<circle cx="199.20" cy="487.30" r="2.3" fill="#000"/>
<circle cx="213.20" cy="461.40" r="2.3" fill="#000"/>
<circle cx="213.20" cy="469.40" r="2.3" fill="#000"/>
<circle cx="213.20" cy="477.30" r="2.3" fill="#000"/>
<circle cx="245.40" cy="478.60" r="2.3" fill="#000"/>
<circle cx="255.20" cy="478.60" r="2.3" fill="#000"/>
<circle cx="250.20" cy="487.60" r="2.3" fill="#000"/>
<circle cx="262.90" cy="482.90" r="2.3" fill="#000"/>
<circle cx="269.20" cy="482.90" r="2.3" fill="#000"/>
<circle cx="275.20" cy="485.70" r="2.3" fill="#000"/>
<circle cx="281.40" cy="476.20" r="2.3" fill="#000"/>
<circle cx="287.80" cy="478.40" r="2.3" fill="#000"/>
<circle cx="293.80" cy="481.30" r="2.3" fill="#000"/>
<line x1="82.40" y1="357.80" x2="82.40" y2="494.95" stroke="#000" stroke-width="1.5"/>
<line x1="82.40" y1="494.20" x2="308.00" y2="494.20" stroke="#000" stroke-width="1.5"/>
<line x1="76.60" y1="494.20" x2="82.40" y2="494.20" stroke="#000" stroke-width="1.5"/>
<text x="75.51" y="497.69" font-family="Liberation Sans" font-size="10" font-weight="bold" text-anchor="end" fill="#111">0</text>
<line x1="76.60" y1="460.30" x2="82.40" y2="460.30" stroke="#000" stroke-width="1.5"/>
<text x="75.39" y="463.79" font-family="Liberation Sans" font-size="10" font-weight="bold" text-anchor="end" fill="#111">5</text>
<line x1="76.60" y1="426.40" x2="82.40" y2="426.40" stroke="#000" stroke-width="1.5"/>
<text x="75.52" y="429.89" font-family="Liberation Sans" font-size="10" font-weight="bold" text-anchor="end" fill="#111">10</text>
<line x1="76.60" y1="392.50" x2="82.40" y2="392.50" stroke="#000" stroke-width="1.5"/>
<text x="75.40" y="395.99" font-family="Liberation Sans" font-size="10" font-weight="bold" text-anchor="end" fill="#111">15</text>
<line x1="76.60" y1="358.60" x2="82.40" y2="358.60" stroke="#000" stroke-width="1.5"/>
<text x="75.52" y="362.09" font-family="Liberation Sans" font-size="10" font-weight="bold" text-anchor="end" fill="#111">20</text>
<text x="132.55" y="348.57" font-family="Liberation Sans" font-size="9.0" font-weight="bold" fill="#222">c</text>
<text x="140.25" y="348.57" font-family="Liberation Sans" font-size="9.0" font-weight="bold" fill="#222">c</text>
<text x="132.17" y="363.12" font-family="Liberation Sans" font-size="14" font-weight="bold" fill="#111">*</text>
<text x="139.07" y="363.12" font-family="Liberation Sans" font-size="14" font-weight="bold" fill="#111">*</text>
<text x="97.32" y="505.00" font-family="Liberation Sans" font-size="10" font-weight="bold" fill="#111" textLength="6.95" lengthAdjust="spacingAndGlyphs">C</text>
<text x="109.12" y="505.00" font-family="Liberation Sans" font-size="10" font-weight="bold" fill="#111" textLength="18.06" lengthAdjust="spacingAndGlyphs">p29</text>
<text x="129.80" y="505.00" font-family="Liberation Sans" font-size="10" font-weight="bold" fill="#111" textLength="13.42" lengthAdjust="spacingAndGlyphs">Q2</text>
<text x="171.76" y="505.00" font-family="Liberation Sans" font-size="10" font-weight="bold" fill="#111" textLength="7.94" lengthAdjust="spacingAndGlyphs">C</text>
<text x="184.50" y="505.00" font-family="Liberation Sans" font-size="10" font-weight="bold" fill="#111" textLength="18.59" lengthAdjust="spacingAndGlyphs">p29</text>
<text x="205.46" y="505.00" font-family="Liberation Sans" font-size="10" font-weight="bold" fill="#111" textLength="14.80" lengthAdjust="spacingAndGlyphs">Q2</text>
<text x="246.62" y="505.00" font-family="Liberation Sans" font-size="10" font-weight="bold" fill="#111" textLength="6.95" lengthAdjust="spacingAndGlyphs">C</text>
<text x="259.83" y="505.00" font-family="Liberation Sans" font-size="10" font-weight="bold" fill="#111" textLength="17.63" lengthAdjust="spacingAndGlyphs">p29</text>
<text x="280.37" y="505.00" font-family="Liberation Sans" font-size="10" font-weight="bold" fill="#111" textLength="14.38" lengthAdjust="spacingAndGlyphs">Q2</text>
<text x="110.27" y="518.70" font-family="Liberation Sans" font-size="10.4" font-weight="bold" fill="#111" textLength="22.16" lengthAdjust="spacingAndGlyphs">A549</text>
<text x="179.91" y="518.70" font-family="Liberation Sans" font-size="10.4" font-weight="bold" fill="#111" textLength="31.59" lengthAdjust="spacingAndGlyphs">SW900</text>
<text x="261.32" y="518.70" font-family="Liberation Sans" font-size="10.4" font-weight="bold" fill="#111" textLength="24.20" lengthAdjust="spacingAndGlyphs">H460</text>
<line x1="92.80" y1="507.90" x2="151.00" y2="507.90" stroke="#777" stroke-width="1.0"/>
<line x1="166.70" y1="507.90" x2="223.00" y2="507.90" stroke="#777" stroke-width="1.0"/>
<line x1="244.10" y1="507.90" x2="297.00" y2="507.90" stroke="#777" stroke-width="1.0"/>
<text transform="translate(45.10 465.50) rotate(-90)" x="-0.28" y="0" font-family="Liberation Sans" font-size="11" font-weight="bold" fill="#111" textLength="79.62" lengthAdjust="spacingAndGlyphs">Apoptotic cells</text>
<text transform="translate(55.90 474.00) rotate(-90)" x="-0.57" y="0" font-family="Liberation Sans" font-size="11" font-weight="bold" fill="#111" textLength="95.55" lengthAdjust="spacingAndGlyphs">(% Anexinn + PI -)</text>
<line x1="394.00" y1="151.55" x2="522.00" y2="151.55" stroke="#333" stroke-width="1.2" stroke-dasharray="1.4 2.1"/>
<rect x="400.80" y="134.00" width="13.20" height="87.80" fill="url(#gdot)" stroke="#6a6a6a" stroke-width="1.0"/>
<rect x="415.00" y="196.00" width="13.10" height="25.80" fill="url(#vdot)" stroke="#2a2a2a" stroke-width="1.0"/>
<rect x="443.50" y="144.80" width="13.60" height="77.00" fill="url(#ghat)" stroke="#6a6a6a" stroke-width="1.0"/>
<rect x="458.10" y="207.00" width="13.40" height="14.80" fill="url(#vhat)" stroke="#2a2a2a" stroke-width="1.0"/>
<rect x="487.00" y="141.50" width="13.20" height="80.30" fill="url(#gmsh)" stroke="#6a6a6a" stroke-width="1.0"/>
<rect x="501.20" y="132.60" width="13.10" height="89.20" fill="url(#vmsh)" stroke="#2a2a2a" stroke-width="1.0"/>
<line x1="407.30" y1="118.70" x2="407.30" y2="148.40" stroke="#222" stroke-width="1.0"/>
<line x1="403.80" y1="118.70" x2="410.80" y2="118.70" stroke="#222" stroke-width="1.0"/>
<line x1="403.80" y1="148.40" x2="410.80" y2="148.40" stroke="#222" stroke-width="1.0"/>
<line x1="421.80" y1="187.60" x2="421.80" y2="203.30" stroke="#222" stroke-width="1.0"/>
<line x1="418.50" y1="187.60" x2="425.10" y2="187.60" stroke="#222" stroke-width="1.0"/>
<line x1="418.50" y1="203.30" x2="425.10" y2="203.30" stroke="#222" stroke-width="1.0"/>
<line x1="450.50" y1="128.30" x2="450.50" y2="160.00" stroke="#222" stroke-width="1.0"/>
<line x1="447.00" y1="128.30" x2="454.00" y2="128.30" stroke="#222" stroke-width="1.0"/>
<line x1="447.00" y1="160.00" x2="454.00" y2="160.00" stroke="#222" stroke-width="1.0"/>
<line x1="464.80" y1="203.30" x2="464.80" y2="209.00" stroke="#222" stroke-width="1.0"/>
<line x1="461.30" y1="203.30" x2="468.30" y2="203.30" stroke="#222" stroke-width="1.0"/>
<line x1="461.30" y1="209.00" x2="468.30" y2="209.00" stroke="#222" stroke-width="1.0"/>
<line x1="493.50" y1="137.80" x2="493.50" y2="143.50" stroke="#222" stroke-width="1.0"/>
<line x1="490.50" y1="137.80" x2="496.50" y2="137.80" stroke="#222" stroke-width="1.0"/>
<line x1="490.50" y1="143.50" x2="496.50" y2="143.50" stroke="#222" stroke-width="1.0"/>
<line x1="507.60" y1="129.00" x2="507.60" y2="135.00" stroke="#222" stroke-width="1.0"/>
<line x1="504.20" y1="129.00" x2="511.00" y2="129.00" stroke="#222" stroke-width="1.0"/>
<line x1="504.20" y1="135.00" x2="511.00" y2="135.00" stroke="#222" stroke-width="1.0"/>
<circle cx="407.30" cy="110.50" r="2.0" fill="#000"/>
<circle cx="407.30" cy="129.60" r="2.0" fill="#000"/>
<circle cx="407.30" cy="161.20" r="2.0" fill="#000"/>
<circle cx="418.20" cy="185.10" r="2.0" fill="#000"/>
<circle cx="425.10" cy="190.00" r="2.0" fill="#000"/>
<circle cx="421.80" cy="210.90" r="2.0" fill="#000"/>
<circle cx="450.50" cy="113.00" r="2.0" fill="#000"/>
<circle cx="446.30" cy="157.30" r="2.0" fill="#000"/>
<circle cx="454.40" cy="161.00" r="2.0" fill="#000"/>
<circle cx="464.70" cy="199.80" r="2.0" fill="#000"/>
<circle cx="461.20" cy="208.40" r="2.0" fill="#000"/>
<circle cx="468.40" cy="211.10" r="2.0" fill="#000"/>
<circle cx="490.10" cy="141.90" r="2.0" fill="#000"/>
<circle cx="493.30" cy="136.40" r="2.0" fill="#000"/>
<circle cx="497.10" cy="142.10" r="2.0" fill="#000"/>
<circle cx="504.20" cy="130.90" r="2.0" fill="#000"/>
<circle cx="508.00" cy="127.90" r="2.0" fill="#000"/>
<circle cx="511.50" cy="136.10" r="2.0" fill="#000"/>
<line x1="392.20" y1="108.60" x2="392.20" y2="222.55" stroke="#000" stroke-width="1.5"/>
<line x1="392.20" y1="221.80" x2="523.70" y2="221.80" stroke="#000" stroke-width="1.5"/>
<line x1="387.70" y1="221.80" x2="392.20" y2="221.80" stroke="#000" stroke-width="1.5"/>
<text x="386.95" y="224.73" font-family="Liberation Sans" font-size="8.4" font-weight="bold" text-anchor="end" fill="#111">0</text>
<line x1="387.70" y1="207.75" x2="392.20" y2="207.75" stroke="#000" stroke-width="1.5"/>
<text x="386.96" y="210.68" font-family="Liberation Sans" font-size="8.4" font-weight="bold" text-anchor="end" fill="#111">20</text>
<line x1="387.70" y1="193.70" x2="392.20" y2="193.70" stroke="#000" stroke-width="1.5"/>
<text x="386.96" y="196.63" font-family="Liberation Sans" font-size="8.4" font-weight="bold" text-anchor="end" fill="#111">40</text>
<line x1="387.70" y1="179.65" x2="392.20" y2="179.65" stroke="#000" stroke-width="1.5"/>
<text x="386.96" y="182.58" font-family="Liberation Sans" font-size="8.4" font-weight="bold" text-anchor="end" fill="#111">60</text>
<line x1="387.70" y1="165.60" x2="392.20" y2="165.60" stroke="#000" stroke-width="1.5"/>
<text x="386.96" y="168.53" font-family="Liberation Sans" font-size="8.4" font-weight="bold" text-anchor="end" fill="#111">80</text>
<line x1="387.70" y1="151.55" x2="392.20" y2="151.55" stroke="#000" stroke-width="1.5"/>
<text x="386.94" y="154.48" font-family="Liberation Sans" font-size="8.4" font-weight="bold" text-anchor="end" fill="#111">100</text>
<line x1="387.70" y1="137.50" x2="392.20" y2="137.50" stroke="#000" stroke-width="1.5"/>
<text x="386.94" y="140.43" font-family="Liberation Sans" font-size="8.4" font-weight="bold" text-anchor="end" fill="#111">120</text>
<line x1="387.70" y1="123.45" x2="392.20" y2="123.45" stroke="#000" stroke-width="1.5"/>
<text x="386.94" y="126.38" font-family="Liberation Sans" font-size="8.4" font-weight="bold" text-anchor="end" fill="#111">140</text>
<line x1="387.70" y1="109.40" x2="392.20" y2="109.40" stroke="#000" stroke-width="1.5"/>
<text x="386.94" y="112.33" font-family="Liberation Sans" font-size="8.4" font-weight="bold" text-anchor="end" fill="#111">160</text>
<text x="420.15" y="182.78" font-family="Liberation Sans" font-size="10.5" fill="#111">*</text>
<text x="462.44" y="184.31" font-family="Liberation Sans" font-size="8" fill="#333">c</text>
<text x="459.25" y="197.61" font-family="Liberation Sans" font-size="11" font-weight="bold" fill="#111">*</text>
<text x="465.56" y="197.61" font-family="Liberation Sans" font-size="11" font-weight="bold" fill="#111">*</text>
<text x="491.16" y="133.54" font-family="Liberation Sans" font-size="11" fill="#111">*</text>
<text x="505.04" y="111.21" font-family="Liberation Sans" font-size="8" fill="#333">c</text>
<text x="505.66" y="124.54" font-family="Liberation Sans" font-size="11" fill="#111">*</text>
<text x="398.53" y="231.70" font-family="Liberation Sans" font-size="8.6" font-weight="bold" fill="#111" textLength="15.08" lengthAdjust="spacingAndGlyphs">p29</text>
<text x="414.16" y="231.70" font-family="Liberation Sans" font-size="8.6" font-weight="bold" fill="#111" textLength="11.29" lengthAdjust="spacingAndGlyphs">Q2</text>
<text x="442.95" y="231.70" font-family="Liberation Sans" font-size="8.6" font-weight="bold" fill="#111" textLength="14.55" lengthAdjust="spacingAndGlyphs">p29</text>
<text x="458.24" y="231.70" font-family="Liberation Sans" font-size="8.6" font-weight="bold" fill="#111" textLength="12.04" lengthAdjust="spacingAndGlyphs">Q2</text>
<text x="485.73" y="231.70" font-family="Liberation Sans" font-size="8.6" font-weight="bold" fill="#111" textLength="15.08" lengthAdjust="spacingAndGlyphs">p29</text>
<text x="501.54" y="231.70" font-family="Liberation Sans" font-size="8.6" font-weight="bold" fill="#111" textLength="12.04" lengthAdjust="spacingAndGlyphs">Q2</text>
<text x="403.81" y="243.50" font-family="Liberation Sans" font-size="9.0" font-weight="bold" fill="#111" textLength="18.26" lengthAdjust="spacingAndGlyphs">A549</text>
<text x="446.57" y="243.50" font-family="Liberation Sans" font-size="9.0" font-weight="bold" fill="#111" textLength="25.15" lengthAdjust="spacingAndGlyphs">SW900</text>
<text x="493.56" y="243.50" font-family="Liberation Sans" font-size="9.0" font-weight="bold" fill="#111" textLength="19.06" lengthAdjust="spacingAndGlyphs">H460</text>
<line x1="398.50" y1="233.70" x2="427.60" y2="233.70" stroke="#777" stroke-width="1.0"/>
<line x1="442.60" y1="233.70" x2="474.10" y2="233.70" stroke="#777" stroke-width="1.0"/>
<line x1="486.30" y1="233.70" x2="515.40" y2="233.70" stroke="#777" stroke-width="1.0"/>
<text transform="translate(358.40 193.20) rotate(-90)" x="-0.61" y="0" font-family="Liberation Sans" font-size="10.4" font-weight="bold" fill="#111" textLength="55.48" lengthAdjust="spacingAndGlyphs">MCL-1 levels</text>
<text transform="translate(369.00 214.90) rotate(-90)" x="-0.49" y="0" font-family="Liberation Sans" font-size="9.8" font-weight="bold" fill="#111" textLength="99.29" lengthAdjust="spacingAndGlyphs">(% relative to control)</text>
<line x1="395.00" y1="436.55" x2="542.00" y2="436.55" stroke="#333" stroke-width="1.2" stroke-dasharray="1.4 2.1"/>
<rect x="401.80" y="435.90" width="15.30" height="54.90" fill="url(#gdot)" stroke="#6a6a6a" stroke-width="1.0"/>
<rect x="418.10" y="463.90" width="15.20" height="26.90" fill="url(#vdot)" stroke="#2a2a2a" stroke-width="1.0"/>
<rect x="450.90" y="444.00" width="16.00" height="46.80" fill="url(#ghat)" stroke="#6a6a6a" stroke-width="1.0"/>
<rect x="467.90" y="466.60" width="15.40" height="24.20" fill="url(#vhat)" stroke="#2a2a2a" stroke-width="1.0"/>
<rect x="500.90" y="421.50" width="15.40" height="69.30" fill="url(#gmsh)" stroke="#6a6a6a" stroke-width="1.0"/>
<rect x="517.30" y="441.50" width="16.00" height="49.30" fill="url(#vmsh)" stroke="#2a2a2a" stroke-width="1.0"/>
<line x1="409.30" y1="432.10" x2="409.30" y2="438.50" stroke="#222" stroke-width="1.0"/>
<line x1="405.70" y1="432.10" x2="412.90" y2="432.10" stroke="#222" stroke-width="1.0"/>
<line x1="405.70" y1="438.50" x2="412.90" y2="438.50" stroke="#222" stroke-width="1.0"/>
<line x1="426.00" y1="455.90" x2="426.00" y2="470.80" stroke="#222" stroke-width="1.0"/>
<line x1="422.40" y1="455.90" x2="429.60" y2="455.90" stroke="#222" stroke-width="1.0"/>
<line x1="422.40" y1="470.80" x2="429.60" y2="470.80" stroke="#222" stroke-width="1.0"/>
<line x1="459.00" y1="433.10" x2="459.00" y2="453.80" stroke="#000" stroke-width="1.8"/>
<line x1="455.10" y1="433.10" x2="462.90" y2="433.10" stroke="#000" stroke-width="1.8"/>
<line x1="455.10" y1="453.80" x2="462.90" y2="453.80" stroke="#000" stroke-width="1.8"/>
<line x1="475.60" y1="462.50" x2="475.60" y2="469.40" stroke="#222" stroke-width="1.0"/>
<line x1="472.00" y1="462.50" x2="479.20" y2="462.50" stroke="#222" stroke-width="1.0"/>
<line x1="472.00" y1="469.40" x2="479.20" y2="469.40" stroke="#222" stroke-width="1.0"/>
<line x1="508.40" y1="407.40" x2="508.40" y2="433.00" stroke="#222" stroke-width="1.0"/>
<line x1="504.90" y1="407.40" x2="511.90" y2="407.40" stroke="#222" stroke-width="1.0"/>
<line x1="504.90" y1="433.00" x2="511.90" y2="433.00" stroke="#222" stroke-width="1.0"/>
<line x1="525.80" y1="430.70" x2="525.80" y2="451.00" stroke="#222" stroke-width="1.0"/>
<line x1="522.20" y1="430.70" x2="529.40" y2="430.70" stroke="#222" stroke-width="1.0"/>
<line x1="522.20" y1="451.00" x2="529.40" y2="451.00" stroke="#222" stroke-width="1.0"/>
<circle cx="409.20" cy="427.00" r="2.1" fill="#000"/>
<circle cx="405.00" cy="433.10" r="2.1" fill="#000"/>
<circle cx="413.60" cy="436.90" r="2.1" fill="#000"/>
<circle cx="409.20" cy="443.60" r="2.1" fill="#000"/>
<circle cx="422.00" cy="452.00" r="2.1" fill="#000"/>
<circle cx="430.20" cy="453.90" r="2.1" fill="#000"/>
<circle cx="426.00" cy="461.00" r="2.1" fill="#000"/>
<circle cx="426.00" cy="485.50" r="2.1" fill="#000"/>
<circle cx="459.00" cy="418.20" r="2.1" fill="#000"/>
<circle cx="459.00" cy="437.60" r="2.1" fill="#000"/>
<circle cx="459.00" cy="453.80" r="2.1" fill="#000"/>
<circle cx="459.00" cy="464.60" r="2.1" fill="#000"/>
<circle cx="471.70" cy="458.60" r="2.1" fill="#000"/>
<circle cx="479.50" cy="461.80" r="2.1" fill="#000"/>
<circle cx="471.70" cy="472.60" r="2.1" fill="#000"/>
<circle cx="479.50" cy="472.60" r="2.1" fill="#000"/>
<circle cx="508.40" cy="380.80" r="2.1" fill="#000"/>
<circle cx="504.20" cy="428.80" r="2.1" fill="#000"/>
<circle cx="512.70" cy="432.90" r="2.1" fill="#000"/>
<circle cx="508.40" cy="442.20" r="2.1" fill="#000"/>
<circle cx="525.10" cy="413.40" r="2.1" fill="#000"/>
<circle cx="525.10" cy="437.00" r="2.1" fill="#000"/>
<circle cx="521.00" cy="454.50" r="2.1" fill="#000"/>
<circle cx="529.70" cy="458.90" r="2.1" fill="#000"/>
<line x1="393.20" y1="377.30" x2="393.20" y2="491.55" stroke="#000" stroke-width="1.5"/>
<line x1="393.20" y1="490.80" x2="542.00" y2="490.80" stroke="#000" stroke-width="1.5"/>
<line x1="388.40" y1="490.80" x2="393.20" y2="490.80" stroke="#000" stroke-width="1.5"/>
<text x="387.35" y="493.73" font-family="Liberation Sans" font-size="8.4" font-weight="bold" text-anchor="end" fill="#111">0</text>
<line x1="388.40" y1="479.95" x2="393.20" y2="479.95" stroke="#000" stroke-width="1.5"/>
<text x="387.36" y="482.88" font-family="Liberation Sans" font-size="8.4" font-weight="bold" text-anchor="end" fill="#111">20</text>
<line x1="388.40" y1="469.10" x2="393.20" y2="469.10" stroke="#000" stroke-width="1.5"/>
<text x="387.36" y="472.03" font-family="Liberation Sans" font-size="8.4" font-weight="bold" text-anchor="end" fill="#111">40</text>
<line x1="388.40" y1="458.25" x2="393.20" y2="458.25" stroke="#000" stroke-width="1.5"/>
<text x="387.36" y="461.18" font-family="Liberation Sans" font-size="8.4" font-weight="bold" text-anchor="end" fill="#111">60</text>
<line x1="388.40" y1="447.40" x2="393.20" y2="447.40" stroke="#000" stroke-width="1.5"/>
<text x="387.36" y="450.33" font-family="Liberation Sans" font-size="8.4" font-weight="bold" text-anchor="end" fill="#111">80</text>
<line x1="388.40" y1="436.55" x2="393.20" y2="436.55" stroke="#000" stroke-width="1.5"/>
<text x="387.34" y="439.48" font-family="Liberation Sans" font-size="8.4" font-weight="bold" text-anchor="end" fill="#111">100</text>
<line x1="388.40" y1="425.70" x2="393.20" y2="425.70" stroke="#000" stroke-width="1.5"/>
<text x="387.34" y="428.63" font-family="Liberation Sans" font-size="8.4" font-weight="bold" text-anchor="end" fill="#111">120</text>
<line x1="388.40" y1="414.85" x2="393.20" y2="414.85" stroke="#000" stroke-width="1.5"/>
<text x="387.34" y="417.78" font-family="Liberation Sans" font-size="8.4" font-weight="bold" text-anchor="end" fill="#111">140</text>
<line x1="388.40" y1="404.00" x2="393.20" y2="404.00" stroke="#000" stroke-width="1.5"/>
<text x="387.34" y="406.93" font-family="Liberation Sans" font-size="8.4" font-weight="bold" text-anchor="end" fill="#111">160</text>
<line x1="388.40" y1="393.15" x2="393.20" y2="393.15" stroke="#000" stroke-width="1.5"/>
<text x="387.34" y="396.08" font-family="Liberation Sans" font-size="8.4" font-weight="bold" text-anchor="end" fill="#111">180</text>
<line x1="388.40" y1="382.30" x2="393.20" y2="382.30" stroke="#000" stroke-width="1.5"/>
<text x="387.34" y="385.23" font-family="Liberation Sans" font-size="8.4" font-weight="bold" text-anchor="end" fill="#111">200</text>
<text x="423.43" y="442.51" font-family="Liberation Sans" font-size="8" font-weight="bold" fill="#222">c</text>
<text x="423.46" y="452.91" font-family="Liberation Sans" font-size="12.5" fill="#111">*</text>
<text x="470.25" y="456.36" font-family="Liberation Sans" font-size="10.5" font-weight="bold" fill="#111">*</text>
<text x="476.35" y="456.36" font-family="Liberation Sans" font-size="10.5" font-weight="bold" fill="#111">*</text>
<text x="400.23" y="500.80" font-family="Liberation Sans" font-size="9" font-weight="bold" fill="#111" textLength="15.08" lengthAdjust="spacingAndGlyphs">p29</text>
<text x="419.52" y="500.80" font-family="Liberation Sans" font-size="9" font-weight="bold" fill="#111" textLength="12.78" lengthAdjust="spacingAndGlyphs">Q2</text>
<text x="450.63" y="500.80" font-family="Liberation Sans" font-size="9" font-weight="bold" fill="#111" textLength="15.19" lengthAdjust="spacingAndGlyphs">p29</text>
<text x="469.24" y="500.80" font-family="Liberation Sans" font-size="9" font-weight="bold" fill="#111" textLength="12.14" lengthAdjust="spacingAndGlyphs">Q2</text>
<text x="500.92" y="500.80" font-family="Liberation Sans" font-size="9" font-weight="bold" fill="#111" textLength="15.40" lengthAdjust="spacingAndGlyphs">p29</text>
<text x="518.41" y="500.80" font-family="Liberation Sans" font-size="9" font-weight="bold" fill="#111" textLength="13.10" lengthAdjust="spacingAndGlyphs">Q2</text>
<text x="408.80" y="512.60" font-family="Liberation Sans" font-size="8.4" font-weight="bold" fill="#111" textLength="19.08" lengthAdjust="spacingAndGlyphs">A549</text>
<text x="455.26" y="512.60" font-family="Liberation Sans" font-size="8.4" font-weight="bold" fill="#111" textLength="26.07" lengthAdjust="spacingAndGlyphs">SW900</text>
<text x="507.23" y="512.60" font-family="Liberation Sans" font-size="8.4" font-weight="bold" fill="#111" textLength="20.11" lengthAdjust="spacingAndGlyphs">H460</text>
<line x1="401.90" y1="504.80" x2="434.30" y2="504.80" stroke="#777" stroke-width="1.0"/>
<line x1="451.90" y1="504.80" x2="484.20" y2="504.80" stroke="#777" stroke-width="1.0"/>
<line x1="501.50" y1="504.80" x2="533.80" y2="504.80" stroke="#777" stroke-width="1.0"/>
<text transform="translate(356.60 458.60) rotate(-90)" x="-0.09" y="0" font-family="Liberation Sans" font-size="9.5" font-weight="bold" fill="#111" textLength="48.77" lengthAdjust="spacingAndGlyphs">XIAP levels</text>
<text transform="translate(367.00 481.40) rotate(-90)" x="-0.48" y="0" font-family="Liberation Sans" font-size="9.45" font-weight="bold" fill="#111" textLength="97.57" lengthAdjust="spacingAndGlyphs">(% relative to control)</text>
</svg>
</body></html>
